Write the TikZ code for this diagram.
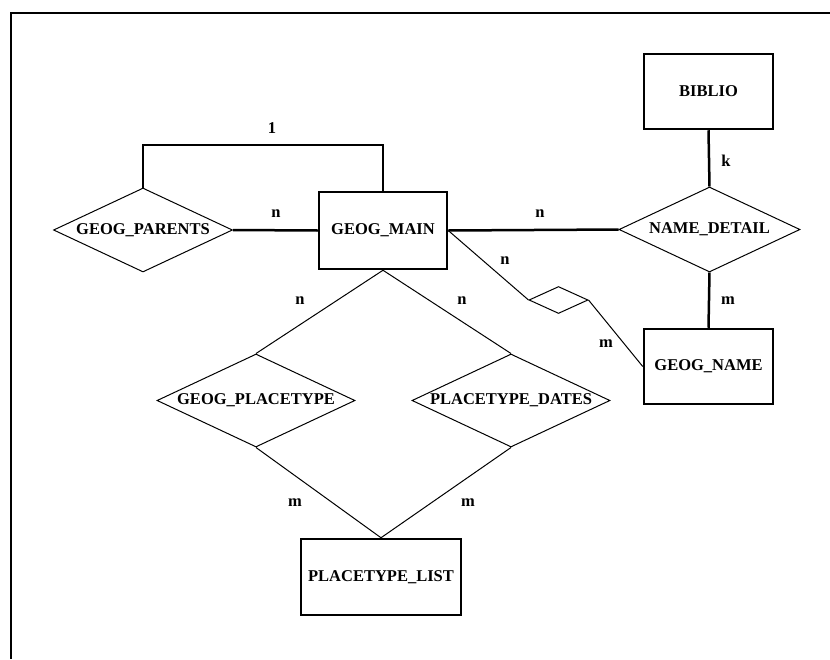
\documentclass[tikz,border=0pt]{standalone}
\usepackage{fontspec}
\setmainfont{Liberation Serif}
\usetikzlibrary{shapes.geometric}

\tikzset{
  thickline/.style={line width=2.5pt},
  thinline/.style={line width=1pt},
  labelfont/.style={font=\bfseries\fontsize{16.5}{19}\selectfont},
  entity/.style={draw, line width=2.5pt, rectangle, inner sep=0pt, labelfont},
  relation/.style={draw, line width=1pt, diamond, inner sep=0pt, aspect=2.13, labelfont},
  card/.style={inner sep=0pt, labelfont},
}

\begin{document}
\begin{tikzpicture}[x=1pt, y=-1pt]
  \useasboundingbox (0,0) rectangle (830,659);

  % page frame (top and left edges only)
  \coordinate (frameTR) at (830,13);
  \coordinate (frameTL) at (11,13);
  \coordinate (frameBL) at (11,659);
  \draw[line width=2.7pt] (frameTR) -- (frameTL) -- (frameBL);

  % entities
  \node[entity, minimum width=129pt, minimum height=75pt] (biblio) at (708.5,91.5) {BIBLIO};
  \node[entity, minimum width=128pt, minimum height=77pt] (main) at (383,230.5) {GEOG\_MAIN};
  \node[entity, minimum width=129pt, minimum height=75pt] (gname) at (708.5,366.5) {GEOG\_NAME};
  \node[entity, minimum width=160pt, minimum height=76pt] (ptlist) at (381,577) {PLACETYPE\_LIST};

  % relationships
  \node[relation, minimum width=179pt, minimum height=84pt] (parents) at (143,230) {GEOG\_PARENTS};
  \node[relation, minimum width=181pt, minimum height=85pt] (ndetail) at (709.5,229.5) {NAME\_DETAIL};
  \node[relation, minimum width=198pt, minimum height=93pt] (gptype) at (256,400.5) {GEOG\_PLACETYPE};
  \node[relation, minimum width=198pt, minimum height=93pt] (ptdates) at (511,400.5) {PLACETYPE\_DATES};
  \node[draw, line width=1pt, diamond, inner sep=0pt, minimum width=59pt, minimum height=27pt] (link) at (558.5,300) {};

  % straight connectors
  \coordinate (looptop) at (0,145);
  \draw[thickline] (main.north) -- (main.north |- looptop) -- (parents.north |- looptop) -- (parents.north);
  \draw[thickline] (parents.east) -- (main.west);
  \draw[thickline] (main.east) -- (ndetail.west);
  \draw[thickline] (biblio.south) -- (ndetail.north);
  \draw[thickline] (ndetail.south) -- (gname.north);

  % diagonal connectors
  \draw[thinline] (main.east) -- (link.west);
  \draw[thinline] (link.east) -- (gname.west);
  \draw[thinline] (main.south) -- (gptype.north);
  \draw[thinline] (main.south) -- (ptdates.north);
  \draw[thinline] (gptype.south) -- (ptlist.north);
  \draw[thinline] (ptdates.south) -- (ptlist.north);

  % cardinalities
  \node[card] (c1) at (272,128) {1};
  \node[card] (c2) at (276,214) {n};
  \node[card] (c3) at (540,214) {n};
  \node[card] (c4) at (726,161) {k};
  \node[card] (c5) at (728,301) {m};
  \node[card] (c6) at (505,261) {n};
  \node[card] (c7) at (606,344) {m};
  \node[card] (c8) at (300,301) {n};
  \node[card] (c9) at (462,301) {n};
  \node[card] (c10) at (295,503) {m};
  \node[card] (c11) at (468,503) {m};
\end{tikzpicture}
\end{document}
